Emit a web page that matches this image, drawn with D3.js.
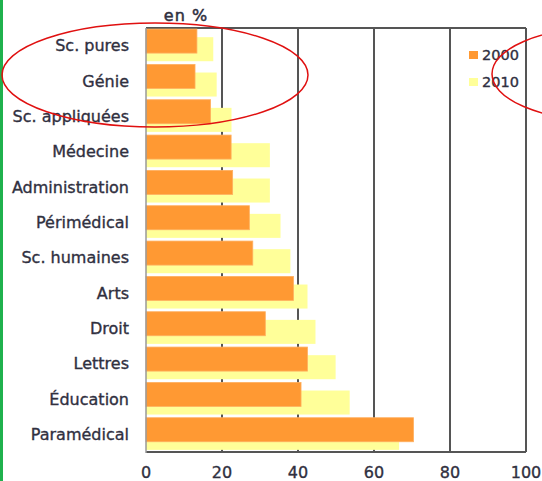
<!DOCTYPE html>
<html>
<head>
<meta charset="utf-8">
<script src="https://cdn.jsdelivr.net/npm/d3@7"></script>
<style>
  body { margin: 0; background: #fff; }
  text { font-family: "DejaVu Sans", Verdana, sans-serif; fill: #30303f; stroke: #30303f; stroke-width: 0.35px; }
</style>
</head>
<body>
<svg id="svg" width="542" height="481"></svg>
<script>
const categories = ['Sc. pures', 'Génie', 'Sc. appliquées', 'Médecine', 'Administration',
    'Périmédical', 'Sc. humaines', 'Arts', 'Droit', 'Lettres', 'Éducation', 'Paramédical']
const values2000 = [13.4, 12.9, 17.0, 22.4, 22.8, 27.2, 28.1, 38.8, 31.4, 42.5, 40.8, 70.4]
const values2010 = [17.7, 18.6, 22.5, 32.6, 32.6, 35.4, 38.0, 42.5, 44.6, 49.9, 53.6, 66.6]
const xTicks = [0, 20, 40, 60, 80, 100]
const series = ['2000', '2010']

const svg = d3.select('#svg')
const mLeft = 146, mRight = 526, mTop = 28, mBottom = 452

const x = d3.scaleLinear().domain([0, 100]).range([mLeft, mRight])
const y = d3.scaleBand().domain(categories).range([mTop, mBottom])
const bw = y.bandwidth()

// green bar on the left edge
svg.append('rect')
    .attr('x', 0).attr('y', 0).attr('width', 3).attr('height', 481)
    .attr('fill', '#1fb14d')

// vertical grid lines
svg.selectAll('line.grid')
    .data(xTicks.slice(1))
    .enter()
    .append('line')
    .attr('x1', (d) => x(d)).attr('x2', (d) => x(d))
    .attr('y1', mTop).attr('y2', mBottom)
    .attr('stroke', '#555').attr('stroke-width', 2)

// frame: top and bottom
svg.append('line').attr('x1', mLeft).attr('x2', mRight).attr('y1', mTop).attr('y2', mTop)
    .attr('stroke', '#555').attr('stroke-width', 2)
svg.append('line').attr('x1', mLeft).attr('x2', mRight).attr('y1', mBottom).attr('y2', mBottom)
    .attr('stroke', '#555').attr('stroke-width', 2)

// 2010 bars (behind, offset down)
svg.selectAll('rect.y2010')
    .data(values2010)
    .enter()
    .append('rect')
    .attr('x', x(0))
    .attr('y', (d, i) => y(categories[i]) + bw * 0.26)
    .attr('width', (d) => x(d) - x(0))
    .attr('height', bw * 0.68)
    .attr('fill', '#ffff99')

// 2000 bars
svg.selectAll('rect.y2000')
    .data(values2000)
    .enter()
    .append('rect')
    .attr('x', x(0))
    .attr('y', (d, i) => y(categories[i]) + bw * 0.03)
    .attr('width', (d) => x(d) - x(0))
    .attr('height', bw * 0.68)
    .attr('fill', '#ff9933')
    .attr('stroke', '#ffb060').attr('stroke-width', 0.8)

// left axis line
svg.append('line').attr('x1', mLeft).attr('x2', mLeft).attr('y1', mTop).attr('y2', mBottom + 1)
    .attr('stroke', '#999').attr('stroke-width', 1.5)

// category labels
svg.selectAll('text.cat')
    .data(categories)
    .enter()
    .append('text')
    .attr('x', 129)
    .attr('y', (d) => y(d) + bw / 2)
    .attr('dy', '0.36em')
    .attr('text-anchor', 'end')
    .style('font-size', '16px')
    .text((d) => d)

// x tick labels
svg.selectAll('text.tick')
    .data(xTicks)
    .enter()
    .append('text')
    .attr('x', (d) => x(d))
    .attr('y', 478)
    .attr('text-anchor', 'middle')
    .style('font-size', '16px')
    .text((d) => d)

svg.append('text')
    .attr('x', 186).attr('y', 21)
    .attr('text-anchor', 'middle')
    .style('font-size', '16px')
    .style('letter-spacing', '1px')
    .style('stroke-width', '0.5px')
    .text('en %')

// legend
const legendColors = ['#ff9933', '#ffff99']
series.forEach((s, i) => {
    svg.append('rect')
        .attr('x', 469).attr('y', 51 + i * 27)
        .attr('width', 9).attr('height', 8)
        .attr('fill', legendColors[i])
    svg.append('text')
        .attr('x', 482).attr('y', 60 + i * 27)
        .style('font-size', '14.5px')
        .text(s)
})

// red annotation ellipses
svg.append('ellipse')
    .attr('cx', 155).attr('cy', 75).attr('rx', 153).attr('ry', 52)
    .attr('fill', 'none').attr('stroke', '#e01010').attr('stroke-width', 1.5)
svg.append('ellipse')
    .attr('cx', 600).attr('cy', 74).attr('rx', 108).attr('ry', 46)
    .attr('fill', 'none').attr('stroke', '#e01010').attr('stroke-width', 1.5)
</script>
</body>
</html>
